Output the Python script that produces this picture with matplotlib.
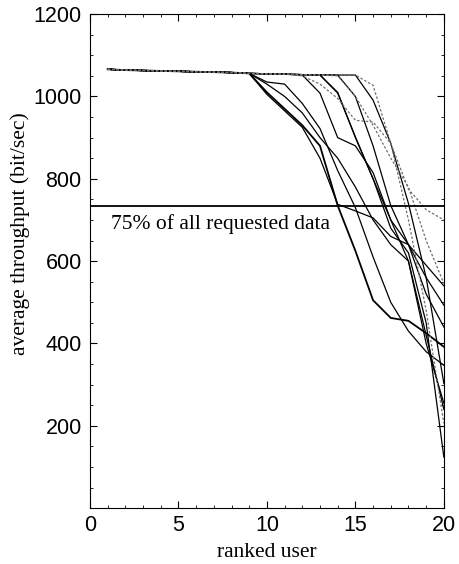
import matplotlib
matplotlib.use("Agg")
import matplotlib.pyplot as plt
from matplotlib.ticker import MultipleLocator

# ranked users 1..20
users = list(range(1, 21))

# shared plateau for the first nine ranked users
head = [1066, 1064, 1063, 1062, 1061, 1060, 1059, 1058, 1056]

# throughput curves (bit/sec), one per run
run_a = head + [1010, 970, 930, 880, 735, 625, 505, 462, 455, 425, 392]
run_b = head + [1005, 965, 925, 850, 738, 722, 705, 660, 640, 590, 540]
run_c = head + [1035, 1030, 983, 922, 820, 730, 610, 500, 430, 380, 347]
run_d = head + [1055, 1054, 1052, 1008, 900, 880, 815, 700, 640, 560, 493]
run_e = head + [1055, 1054, 1053, 1052, 1008, 902, 800, 700, 600, 400, 255]
run_f = head + [1055, 1054, 1050, 1030, 995, 942, 938, 886, 775, 725, 700]
run_g = head + [1055, 1054, 1053, 1053, 1052, 1052, 991, 886, 740, 560, 303]
run_h = head + [1055, 1054, 1053, 1053, 1052, 1052, 1027, 886, 700, 480, 206]
run_i = head + [1055, 1054, 1053, 1052, 1010, 900, 800, 680, 620, 450, 124]
run_j = head + [1055, 1054, 1053, 1052, 1052, 1000, 880, 735, 640, 520, 440]
run_k = head + [1055, 1054, 1053, 1052, 1050, 1000, 930, 850, 780, 650, 546]
run_l = head + [1030, 1000, 960, 900, 850, 780, 700, 640, 600, 420, 240]

thick_runs = [run_a]
solid_runs = [run_b, run_c, run_d, run_e, run_g, run_i, run_j, run_l]
dotted_runs = [run_f, run_h, run_k]

threshold = 733
threshold_label = "75% of all requested data"


def graph():
    fig = plt.figure(figsize=(4.59, 5.64), dpi=100)
    ax = fig.add_axes([0.196, 0.099, 0.771, 0.876])

    for r in thick_runs:
        ax.plot(users, r, color="black", lw=1.3)
    for r in solid_runs:
        ax.plot(users, r, color="black", lw=0.9)
    for r in dotted_runs:
        ax.plot(users, r, color="#707070", lw=0.9, linestyle=(0, (2, 1.5)))

    ax.axhline(threshold, color="black", lw=1.3)
    ax.text(1.2, threshold - 18, threshold_label, family="Liberation Serif",
            fontsize=15.5, va="top", ha="left")

    ax.set_xlim(0, 20)
    ax.set_ylim(0, 1200)
    ax.xaxis.set_major_locator(MultipleLocator(5))
    ax.xaxis.set_minor_locator(MultipleLocator(1))
    ax.set_yticks([200, 400, 600, 800, 1000, 1200])
    ax.yaxis.set_minor_locator(MultipleLocator(50))
    ax.tick_params(which="both", direction="in", top=True, right=True,
                   labelsize=15.5)
    ax.tick_params(which="major", length=5, width=0.8)
    ax.tick_params(which="minor", length=2.5, width=0.6)
    ax.tick_params(axis="y", pad=6)
    ax.tick_params(axis="x", pad=5)
    for lab in ax.get_xticklabels() + ax.get_yticklabels():
        lab.set_family("Liberation Sans")

    ax.set_xlabel("ranked user", family="Liberation Serif", fontsize=15.5,
                  labelpad=5)
    ax.set_ylabel("average throughput (bit/sec)", family="Liberation Serif",
                  fontsize=15.5)
    ax.yaxis.set_label_coords(-0.17, 0.555)

    fig.savefig("out.png", dpi=100)


if __name__ == "__main__":
    graph()
